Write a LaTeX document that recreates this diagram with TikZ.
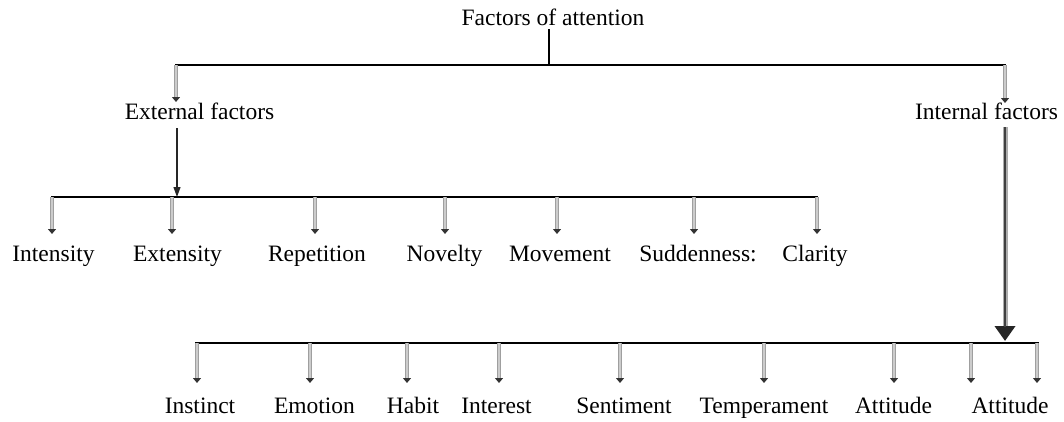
\documentclass[tikz,border=0pt]{standalone}
\usepackage{fontspec}
\setmainfont{Liberation Serif}
\usetikzlibrary{arrows.meta}
\begin{document}
\begin{tikzpicture}[x=1pt,y=-1pt,
  lbl/.style={anchor=base, inner sep=0pt, font=\fontsize{23.5}{26}\selectfont},
  bar/.style={line width=2pt, black, line cap=rect},
  grayarrow/.style={draw=gray!75, line width=4.5pt,
    -{Triangle[length=5pt,width=8pt,color=black!80,fill=black!80]},
    postaction={draw=gray!40, line width=1.6pt, -, shorten >=5.5pt}},
  thinarrow/.style={draw=black!85, line width=1.1pt,
    -{Triangle[length=10pt,width=7pt]}},
  thickarrow/.style={draw=gray!65, line width=5pt,
    -{Triangle[length=15pt,width=20pt,color=black!85,fill=black!85]},
    postaction={draw=black!75, line width=2.6pt, -, shorten >=14pt}}]
\useasboundingbox (0,0) rectangle (1064,421);

% root and first level
\node[lbl] (root) at (553,25) {Factors of attention};
\node[lbl] (ext) at (199.5,119) {External factors};
\node[lbl] (int) at (986.5,119) {Internal factors};

\coordinate (topL) at (176,65);
\coordinate (topM) at (549,65);
\coordinate (topR) at (1005,65);
\coordinate (extTip) at (176,102);
\coordinate (intTip) at (1005,103);

\draw[bar] (root.south -| topM) ++(0,5) -- (topM);
\draw[bar] (topL) -- (topR);
\draw[grayarrow] (topL) -- (extTip);
\draw[grayarrow] (topR) -- (intTip);

% external factors
\coordinate (midL) at (52,197);
\coordinate (midR) at (817,197);
\coordinate (extIn) at (177,197);
\draw[thinarrow] (ext.south -| extIn) ++(0,9) -- (extIn);
\draw[bar] (midL) -- (midR);

\foreach \name/\ax/\lx/\txt in {
  e1/52/53.5/Intensity, e2/172/177.5/Extensity, e3/315/317/Repetition,
  e4/445/444.5/Novelty, e5/557/560/Movement, e6/694/698/Suddenness:,
  e7/817/815/Clarity}{
  \node[lbl] (\name) at (\lx,261) {\txt};
  \coordinate (\name top) at (\ax,197);
  \coordinate (\name tip) at (\ax,234);
  \draw[grayarrow] (\name top) -- (\name tip);
}

% internal factors
\coordinate (botL) at (196,343);
\coordinate (botR) at (1038,343);
\coordinate (intIn) at (1005,341);
\draw[thickarrow] (int.south -| intIn) ++(0,8) -- (intIn);
\draw[bar] (botL) -- (botR);

\foreach \name/\ax/\lx/\txt in {
  i1/197/200/Instinct, i2/310/314.5/Emotion, i3/407/413/Habit,
  i4/499/496.5/Interest, i5/620/624/Sentiment, i6/764/764/Temperament,
  i7/894/893.5/Attitude}{
  \node[lbl] (\name) at (\lx,413) {\txt};
  \coordinate (\name top) at (\ax,343);
  \coordinate (\name tip) at (\ax,383);
  \draw[grayarrow] (\name top) -- (\name tip);
}
\node[lbl] (i8) at (1010,413) {Attitude};
\coordinate (i8top) at (971,343);
\coordinate (i8tip) at (971,383);
\coordinate (i9top) at (1037,343);
\coordinate (i9tip) at (1037,383);
\draw[grayarrow] (i8top) -- (i8tip);
\draw[grayarrow] (i9top) -- (i9tip);
\end{tikzpicture}
\end{document}
